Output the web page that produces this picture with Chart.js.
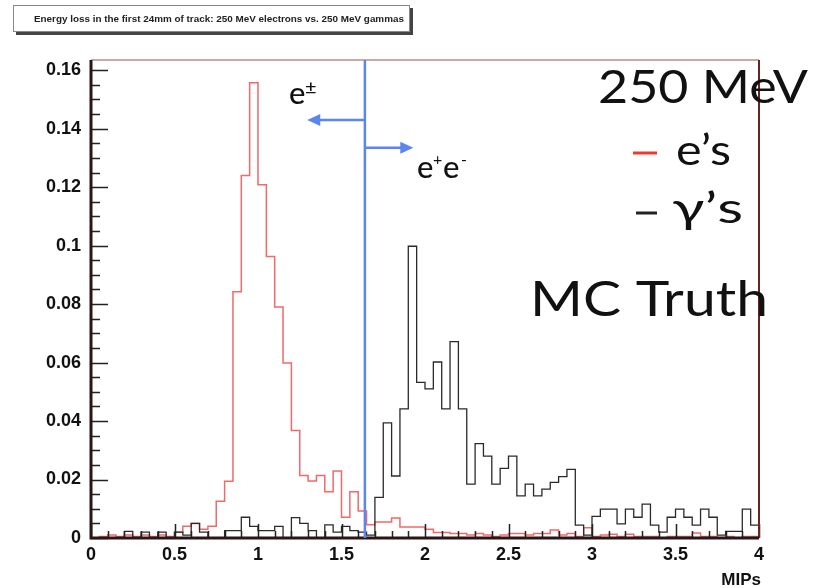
<!DOCTYPE html>
<html>
<head>
<meta charset="utf-8">
<script src="https://cdn.jsdelivr.net/npm/chart.js@4.4.0/dist/chart.umd.min.js"></script>
<style>
  body { margin: 0; background: #fff; }
  #wrap { position: relative; width: 836px; height: 588px; }
  #title {
    position: absolute; left: 13px; top: 5px; width: 397px; height: 27px;
    border: 1px solid #888; box-shadow: 3px 3px 0 #444; background: #fff;
    font: bold 9.9px "Liberation Sans", Arial, sans-serif; color: #222;
    line-height: 25px; padding-left: 20px; box-sizing: border-box; white-space: nowrap;
  }
</style>
</head>
<body>
<div id="wrap">
  <canvas id="chart" width="836" height="588"></canvas>
  <div id="title">Energy loss in the first 24mm of track: 250 MeV electrons vs. 250 MeV gammas</div>
</div>
<script>
// histogram binning (MIPs)
const binStart = 0;
const binWidth = 0.05;

// 250 MeV electrons, fraction per bin
const electronValues = [
  0, 0.0005, 0.001, 0.0005, 0.001, 0.0005, 0.001, 0.0005, 0.001, 0.0005,
  0.002, 0.004, 0.005, 0.003, 0.004, 0.0126, 0.0194, 0.0842, 0.124, 0.1557,
  0.1208, 0.0963, 0.079, 0.0599, 0.0368, 0.0214, 0.0195, 0.0214, 0.0158, 0.0229,
  0.0071, 0.0158, 0.0092, 0.0045, 0.0055, 0.0055, 0.0068, 0.0038, 0.0038, 0.0038,
  0.003, 0.0019, 0.0019, 0.0015, 0.0015, 0.001, 0.0015, 0.001, 0.0005, 0.001,
  0.0015, 0.0015, 0.001, 0.0015, 0.0015, 0.0027, 0.001, 0.0015, 0.0005, 0.0035,
  0.0005, 0.001, 0.0013, 0.0005, 0.0013, 0.0005, 0.0005, 0.0005, 0, 0.0005,
  0.0005, 0.0005, 0.0017, 0.0005, 0.0005, 0, 0.0005, 0, 0.0005, 0.0005
];

// 250 MeV gammas, fraction per bin
const gammaValues = [
  0, 0, 0, 0, 0.0023, 0, 0.002, 0, 0.002, 0,
  0.002, 0.001, 0.005, 0.002, 0, 0, 0.0025, 0.0025, 0.0071, 0.004,
  0.0025, 0.0025, 0.004, 0, 0.007, 0.005, 0.0025, 0, 0.0045, 0.002,
  0.004, 0.0025, 0.002, 0.001, 0.0139, 0.0394, 0.0212, 0.0442, 0.0998, 0.0532,
  0.051, 0.0602, 0.0442, 0.0672, 0.0442, 0.0184, 0.0323, 0.028, 0.0184, 0.0238,
  0.028, 0.0144, 0.0184, 0.0144, 0.0167, 0.019, 0.021, 0.0235, 0.0044, 0.001,
  0.0074, 0.0099, 0.0099, 0.0048, 0.0099, 0.0071, 0.0116, 0.0044, 0.002, 0.0071,
  0.0099, 0.0071, 0.0044, 0.0099, 0.0071, 0.001, 0.0023, 0.0023, 0.0099, 0.0044
];

// axis ranges and tick labels
const xRange = [0, 4];
const yRange = [0, 0.1635];
const xTickStep = 0.5;
const yTickStep = 0.02;

// cut line between e± and e+e-
const cutValue = 1.64;

// turn bin values into step points
function toSteps(values) {
  const pts = values.map((v, i) => ({ x: binStart + i * binWidth, y: v }));
  pts.push({ x: binStart + values.length * binWidth, y: values[values.length - 1] });
  return pts;
}

// text squeezed or stretched to a given width, right aligned
function fitText(ctx, text, right, baseline, width, font) {
  ctx.save();
  ctx.font = font;
  const w = ctx.measureText(text).width;
  const k = width / w;
  ctx.translate(right - width, baseline);
  ctx.scale(k, 1);
  ctx.textAlign = 'left';
  ctx.textBaseline = 'alphabetic';
  ctx.fillText(text, 0, 0);
  ctx.restore();
}

function arrow(ctx, x1, x2, y, color) {
  const dir = x2 > x1 ? 1 : -1;
  ctx.strokeStyle = color;
  ctx.fillStyle = color;
  ctx.lineWidth = 2.5;
  ctx.beginPath();
  ctx.moveTo(x1, y);
  ctx.lineTo(x2 - dir * 10, y);
  ctx.stroke();
  ctx.beginPath();
  ctx.moveTo(x2, y);
  ctx.lineTo(x2 - dir * 13, y - 6);
  ctx.lineTo(x2 - dir * 13, y + 6);
  ctx.closePath();
  ctx.fill();
}

// frame, inner ticks, cut line and labels
const overlayPlugin = {
  id: 'overlay',
  afterDatasetsDraw(chart) {
    const ctx = chart.ctx;
    const area = chart.chartArea;
    const xs = chart.scales.x;
    const ys = chart.scales.y;

    ctx.save();
    // ticks inside the frame
    ctx.strokeStyle = '#222';
    ctx.lineWidth = 1.5;
    ctx.beginPath();
    for (let v = 0; v <= 0.16001; v += 0.005) {
      const y = Math.round(ys.getPixelForValue(v)) + 0.5;
      const major = Math.abs(v / yTickStep - Math.round(v / yTickStep)) < 1e-6;
      ctx.moveTo(area.left, y);
      ctx.lineTo(area.left + (major ? 17 : 9), y);
    }
    for (let v = 0; v <= 4.0001; v += 0.1) {
      const x = Math.round(xs.getPixelForValue(v)) + 0.5;
      const major = Math.abs(v / xTickStep - Math.round(v / xTickStep)) < 1e-6;
      ctx.moveTo(x, area.bottom);
      ctx.lineTo(x, area.bottom - (major ? 14 : 7));
    }
    ctx.stroke();

    // frame
    ctx.strokeStyle = '#c08a8a';
    ctx.lineWidth = 1.5;
    ctx.beginPath();
    ctx.moveTo(area.left, area.top);
    ctx.lineTo(area.right, area.top);
    ctx.stroke();
    ctx.strokeStyle = '#6a2222';
    ctx.lineWidth = 2;
    ctx.beginPath();
    ctx.moveTo(area.right, area.top);
    ctx.lineTo(area.right, area.bottom);
    ctx.stroke();
    ctx.strokeStyle = '#2a1616';
    ctx.lineWidth = 3;
    ctx.beginPath();
    ctx.moveTo(area.left, area.top);
    ctx.lineTo(area.left, area.bottom);
    ctx.lineTo(area.right, area.bottom);
    ctx.stroke();

    // cut line and arrows
    const blue = '#5a86ee';
    const cx = xs.getPixelForValue(cutValue);
    ctx.strokeStyle = blue;
    ctx.lineWidth = 2.5;
    ctx.beginPath();
    ctx.moveTo(cx, area.top);
    ctx.lineTo(cx, area.bottom);
    ctx.stroke();
    arrow(ctx, cx, xs.getPixelForValue(1.295), ys.getPixelForValue(0.143), blue);
    arrow(ctx, cx, xs.getPixelForValue(1.93), ys.getPixelForValue(0.1335), blue);

    // e± and e+e-
    ctx.fillStyle = '#111';
    ctx.textBaseline = 'alphabetic';
    ctx.textAlign = 'left';
    ctx.font = '500 31px Lato, sans-serif';
    ctx.fillText('e', 289, 104);
    ctx.font = '500 20px Lato, sans-serif';
    ctx.fillText('±', 305, 94);
    ctx.font = '500 31px Lato, sans-serif';
    ctx.fillText('e', 417, 178);
    ctx.fillText('e', 443, 178);
    ctx.font = '16px Lato, sans-serif';
    ctx.fillText('+', 433, 165);
    ctx.fillText('-', 461, 165);

    // legend block
    fitText(ctx, '250 MeV', 808, 103, 210, '46px Lato, sans-serif');
    fitText(ctx, 'e’s', 731, 165, 55, '42px Lato, sans-serif');
    fitText(ctx, 'γ’s', 743, 223, 71, '42px Lato, sans-serif');
    fitText(ctx, 'MC Truth', 768, 316, 238, '49px Lato, sans-serif');
    ctx.lineWidth = 3;
    ctx.strokeStyle = '#f03a2a';
    ctx.beginPath();
    ctx.moveTo(633, 153);
    ctx.lineTo(657, 153);
    ctx.stroke();
    ctx.strokeStyle = '#222';
    ctx.beginPath();
    ctx.moveTo(636, 213);
    ctx.lineTo(657, 213);
    ctx.stroke();

    // axis title
    ctx.font = 'bold 17px "Liberation Sans", Arial, sans-serif';
    ctx.textAlign = 'right';
    ctx.fillText('MIPs', 761, 585);
    ctx.restore();
  }
};

const ctx = document.getElementById('chart').getContext('2d');
const tickFont = { family: '"Liberation Sans", Arial, sans-serif', size: 18, weight: 'bold' };

new Chart(ctx, {
  type: 'line',
  data: {
    datasets: [
      {
        label: 'gammas',
        data: toSteps(gammaValues),
        borderColor: '#2a2a2a',
        borderWidth: 1.3,
        stepped: 'before',
        pointRadius: 0,
        fill: false
      },
      {
        label: 'electrons',
        data: toSteps(electronValues),
        borderColor: '#f06a6a',
        borderWidth: 1.5,
        stepped: 'before',
        pointRadius: 0,
        fill: false
      }
    ]
  },
  options: {
    responsive: false,
    animation: false,
    devicePixelRatio: 1,
    layout: { padding: { left: 0, top: 60, right: 77, bottom: 0 } },
    plugins: {
      legend: { display: false },
      tooltip: { enabled: false }
    },
    scales: {
      x: {
        type: 'linear',
        min: xRange[0],
        max: xRange[1],
        grid: { display: false },
        border: { display: false },
        afterFit: scale => { scale.height = 50; },
        ticks: {
          stepSize: xTickStep,
          padding: -2,
          color: '#111',
          font: tickFont,
          maxRotation: 0,
          callback: v => String(+v.toFixed(1))
        }
      },
      y: {
        min: yRange[0],
        max: yRange[1],
        grid: { display: false },
        border: { display: false },
        afterFit: scale => { scale.width = 91; },
        ticks: {
          stepSize: yTickStep,
          includeBounds: false,
          padding: 2,
          color: '#111',
          font: tickFont,
          callback: v => String(+v.toFixed(2))
        }
      }
    }
  },
  plugins: [overlayPlugin]
});
</script>
</body>
</html>
